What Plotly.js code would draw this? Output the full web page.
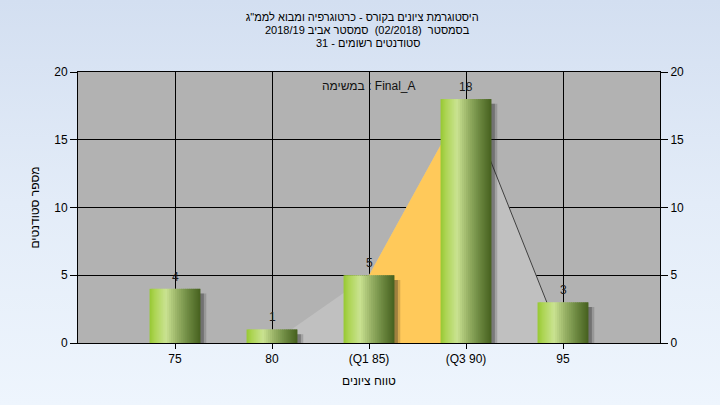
<!DOCTYPE html>
<html>
<head>
<meta charset="utf-8">
<script src="https://cdn.plot.ly/plotly-3.0.1.min.js"></script>
<style>
html,body{margin:0;padding:0;}
body{width:720px;height:405px;background:linear-gradient(to bottom,#d3dff1 0%,#e3ecf8 50%,#eef5fd 100%);}
#chart{width:720px;height:405px;}
</style>
</head>
<body>
<div id="chart"></div>
<script>
// ---- data ----
const categories = ['75', '80', '(Q1 85)', '(Q3 90)', '95'];
const counts = [4, 1, 5, 18, 3];
// background area (distribution outline)
const areaCats = ['80', '(Q1 85)', '(Q3 90)', '95'];
const areaVals = [0, 5, 18, 0];
// inter-quartile highlighted area
const iqrCats = ['(Q1 85)', '(Q3 90)'];
const iqrVals = [5, 18];
// outline segment
const edgeCats = ['(Q3 90)', '95'];
const edgeVals = [18, 0];

const titleLines = [
  'היסטוגרמת ציונים בקורס - כרטוגרפיה ומבוא לממ"ג',
  'בסמסטר  (02/2018)  סמסטר אביב 2018/19',
  'סטודנטים רשומים - 31'
];
const taskLabel = 'במשימה : Final_A';
const xTitle = 'טווח ציונים';
const yTitle = 'מספר סטודנטים';

// ---- styling helpers ----
const FONT = 'Liberation Sans, Arial, sans-serif';
const BAR_W = 0.525;
const stops = [
  [0.00, [150, 200, 50]],
  [0.10, [172, 212, 82]],
  [0.32, [202, 227, 145]],
  [0.55, [150, 175, 100]],
  [0.78, [105, 133, 62]],
  [1.00, [70, 96, 30]]
];
function gradColor(t) {
  for (let i = 1; i < stops.length; i++) {
    if (t <= stops[i][0]) {
      const a = stops[i - 1], b = stops[i];
      const f = (t - a[0]) / (b[0] - a[0]);
      const c = a[1].map((v, k) => Math.round(v + (b[1][k] - v) * f));
      return 'rgb(' + c.join(',') + ')';
    }
  }
  return 'rgb(' + stops[stops.length - 1][1].join(',') + ')';
}

const traces = [];
// light grey area (main axis, drawn beneath bars)
traces.push({
  type: 'scatter', x: areaCats, y: areaVals, mode: 'lines',
  fill: 'tozeroy', fillcolor: '#c0c0c0', line: {width: 0, color: '#c0c0c0'},
  hoverinfo: 'skip', showlegend: false
});
// orange IQR area
traces.push({
  type: 'scatter', x: iqrCats, y: iqrVals, mode: 'lines',
  fill: 'tozeroy', fillcolor: '#ffc95a', line: {width: 0, color: '#ffc95a'},
  hoverinfo: 'skip', showlegend: false
});
// dark edge line
traces.push({
  type: 'scatter', x: edgeCats, y: edgeVals, mode: 'lines',
  line: {width: 1, color: '#404040'}, hoverinfo: 'skip', showlegend: false
});
// shadows (overlay axis so they sit above the areas)
[[0.035, 0.3], [0.06, 0.18]].forEach(function (s) {
  traces.push({
    type: 'bar', x: categories, y: counts, base: -0.35, yaxis: 'y2',
    width: BAR_W, offset: -BAR_W / 2 + s[0],
    marker: {color: 'rgba(30,30,30,' + s[1] + ')', line: {width: 0}},
    hoverinfo: 'skip', showlegend: false
  });
});
// gradient bars built from strips
const N = 26;
const step = BAR_W / N;
for (let i = 0; i < N; i++) {
  traces.push({
    type: 'bar', x: categories, y: counts, yaxis: 'y2',
    width: (i === N - 1) ? step : step * 1.6,
    offset: -BAR_W / 2 + i * step,
    marker: {color: gradColor((i + 0.5) / N), line: {width: 0}},
    hoverinfo: 'skip', showlegend: false
  });
}

// value labels: x given as category index on the category axis
const valueLabels = counts.map(function (v, i) {
  return {
    x: i, y: v, xref: 'x', yref: 'y2', text: String(v),
    showarrow: false, yanchor: 'middle', xanchor: 'center', yshift: 12,
    font: {family: FONT, size: 12, color: '#1a1a1a'}
  };
});

const layout = {
  width: 720, height: 405,
  paper_bgcolor: 'rgba(0,0,0,0)',
  plot_bgcolor: '#b2b2b2',
  margin: {l: 78, r: 60, t: 72, b: 62},
  barmode: 'overlay',
  showlegend: false,
  font: {family: FONT, size: 12, color: '#000'},
  title: {
    text: titleLines[0],
    font: {family: FONT, size: 11, color: '#000'},
    x: 0.503, xanchor: 'center', yref: 'container', y: 1 - 17 / 405, yanchor: 'middle'
  },
  xaxis: {
    type: 'category', categoryorder: 'array', categoryarray: categories,
    range: [-1, 5], showgrid: true, gridcolor: '#000', gridwidth: 1,
    showline: true, linecolor: '#000', linewidth: 1, mirror: true,
    ticks: 'outside', ticklen: 5, tickcolor: '#000',
    tickfont: {family: FONT, size: 12, color: '#000'},
    title: {text: xTitle, font: {family: FONT, size: 12, color: '#000'}, standoff: 11},
    zeroline: false, fixedrange: true
  },
  yaxis: {
    range: [0, 20], dtick: 5, showgrid: true, gridcolor: '#000', gridwidth: 1,
    showline: true, linecolor: '#000', linewidth: 1, mirror: true,
    ticks: 'outside', ticklen: 7, tickcolor: '#000',
    tickfont: {family: FONT, size: 12, color: '#000'},
    title: {text: yTitle, font: {family: FONT, size: 12, color: '#000'}, standoff: 12},
    zeroline: false, fixedrange: true
  },
  yaxis2: {
    overlaying: 'y', side: 'right', range: [0, 20], dtick: 5,
    showgrid: false, zeroline: false, showline: false,
    ticks: 'outside', ticklen: 7, tickcolor: '#000',
    tickfont: {family: FONT, size: 12, color: '#000'}, fixedrange: true
  },
  annotations: [
    {
      text: titleLines[1], xref: 'paper', yref: 'paper', x: 0.498, y: 1 + 42 / 271,
      xanchor: 'center', yanchor: 'middle', showarrow: false,
      font: {family: FONT, size: 11, color: '#000'}
    },
    {
      text: titleLines[2], xref: 'paper', yref: 'paper', x: 0.498, y: 1 + 29 / 271,
      xanchor: 'center', yanchor: 'middle', showarrow: false,
      font: {family: FONT, size: 11, color: '#000'}
    },
    {
      text: taskLabel, xref: 'paper', yref: 'paper', x: 0.5, y: 0.948,
      xanchor: 'center', yanchor: 'middle', showarrow: false,
      font: {family: FONT, size: 12, color: '#111'}
    }
  ].concat(valueLabels)
};

Plotly.newPlot('chart', traces, layout, {staticPlot: true, displayModeBar: false});
</script>
</body>
</html>
